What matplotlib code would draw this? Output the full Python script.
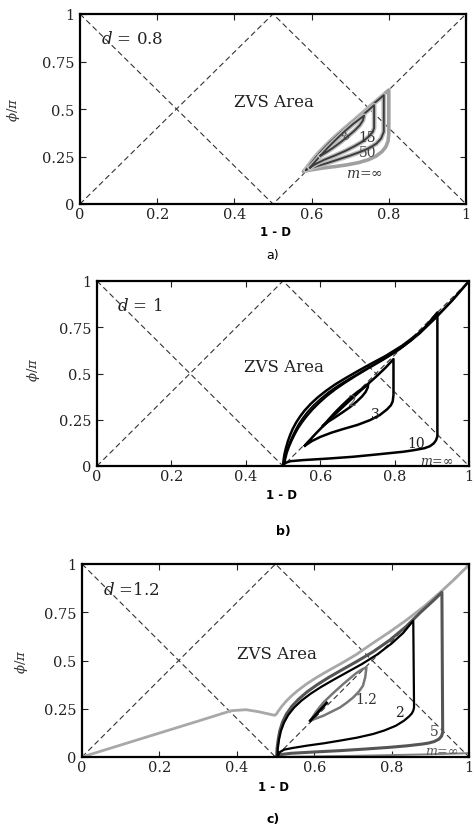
import numpy as np
import matplotlib.pyplot as plt
import matplotlib.patheffects as pe

plt.rcParams['font.family'] = 'DejaVu Serif'
plt.rcParams['mathtext.fontset'] = 'dejavuserif'

W, H = 474, 828

x_ticks = [0, 0.2, 0.4, 0.6, 0.8, 1]
x_ticklabels = ['0', '0.2', '0.4', '0.6', '0.8', '1']
y_ticks = [0, 0.25, 0.5, 0.75, 1]
y_ticklabels = ['0', '0.25', '0.5', '0.75', '1']

# ZVS boundary lines
diam1_x = [0, 0.5, 1]
diam1_y = [0, 1, 0]
diam2_x = [0, 0.5, 1]
diam2_y = [1, 0, 1]

# ---- d = 0.8 ----
a_inf_x = [0.580, 0.590, 0.602, 0.617, 0.635, 0.655, 0.677, 0.700, 0.724, 0.748, 0.772, 0.800,
           0.800, 0.798, 0.792, 0.782, 0.767, 0.747, 0.722, 0.692, 0.660, 0.628, 0.600, 0.580]
a_inf_y = [0.172, 0.200, 0.232, 0.268, 0.306, 0.345, 0.385, 0.425, 0.466, 0.508, 0.550, 0.600,
           0.370, 0.330, 0.300, 0.275, 0.252, 0.233, 0.218, 0.206, 0.197, 0.189, 0.180, 0.172]
a_50_x = [0.586, 0.597, 0.610, 0.626, 0.645, 0.666, 0.689, 0.713, 0.738, 0.762, 0.787,
          0.787, 0.780, 0.768, 0.750, 0.727, 0.700, 0.670, 0.640, 0.610, 0.586]
a_50_y = [0.180, 0.210, 0.243, 0.280, 0.320, 0.360, 0.401, 0.443, 0.487, 0.530, 0.573,
          0.380, 0.345, 0.318, 0.295, 0.275, 0.255, 0.235, 0.215, 0.197, 0.180]
a_15_x = [0.596, 0.610, 0.626, 0.645, 0.666, 0.689, 0.713, 0.738, 0.762,
          0.762, 0.758, 0.748, 0.733, 0.712, 0.688, 0.660, 0.632, 0.610, 0.596]
a_15_y = [0.192, 0.225, 0.262, 0.302, 0.344, 0.388, 0.432, 0.478, 0.520,
          0.400, 0.378, 0.355, 0.330, 0.305, 0.280, 0.255, 0.232, 0.210, 0.192]
a_8_x = [0.623, 0.640, 0.660, 0.683, 0.708, 0.736,
         0.733, 0.725, 0.712, 0.695, 0.675, 0.655, 0.638, 0.623]
a_8_y = [0.254, 0.292, 0.333, 0.378, 0.422, 0.465,
         0.440, 0.415, 0.388, 0.358, 0.325, 0.295, 0.272, 0.254]

# ---- d = 1 ----
b_inf_x = [0.500, 0.5015, 0.504, 0.508, 0.513, 0.519, 0.526, 0.535, 0.546, 0.559, 0.575, 0.594,
           0.616, 0.641, 0.669, 0.700, 0.735, 0.775, 0.820, 0.865, 0.910, 0.955, 1.000]
b_inf_y = [0.000, 0.032, 0.064, 0.098, 0.133, 0.167, 0.200, 0.234, 0.268, 0.302, 0.337, 0.372,
           0.407, 0.442, 0.476, 0.512, 0.551, 0.594, 0.650, 0.718, 0.802, 0.896, 1.000]
b_30_x = [0.5005, 0.503, 0.507, 0.512, 0.518, 0.525, 0.533, 0.542, 0.553, 0.566, 0.582, 0.601,
          0.622, 0.647, 0.675, 0.706, 0.740, 0.779, 0.823, 0.867, 0.911, 0.956, 1.000]
b_30_y = [0.000, 0.030, 0.060, 0.093, 0.127, 0.160, 0.193, 0.226, 0.259, 0.293, 0.328, 0.363,
          0.398, 0.433, 0.468, 0.504, 0.543, 0.588, 0.645, 0.714, 0.800, 0.895, 0.998]
b_10_x = [0.503, 0.506, 0.510, 0.516, 0.523, 0.531, 0.540, 0.551, 0.564, 0.579, 0.597, 0.617,
          0.640, 0.666, 0.695, 0.728, 0.765, 0.805, 0.845, 0.882, 0.915,
          0.915, 0.911, 0.905, 0.895, 0.880, 0.850, 0.823, 0.750, 0.689, 0.620, 0.555, 0.520, 0.508, 0.503]
b_10_y = [0.012, 0.040, 0.072, 0.105, 0.138, 0.171, 0.204, 0.237, 0.271, 0.306, 0.342, 0.378,
          0.414, 0.450, 0.487, 0.527, 0.570, 0.620, 0.680, 0.750, 0.830,
          0.160, 0.138, 0.122, 0.107, 0.096, 0.085, 0.077, 0.062, 0.050, 0.040, 0.032, 0.026, 0.018, 0.012]
b_3_x = [0.559, 0.572, 0.588, 0.606, 0.626, 0.648, 0.672, 0.698, 0.725, 0.752, 0.776, 0.797,
         0.797, 0.795, 0.790, 0.779, 0.760, 0.734, 0.700, 0.662, 0.630, 0.600, 0.578, 0.559]
b_3_y = [0.110, 0.140, 0.175, 0.212, 0.252, 0.295, 0.340, 0.388, 0.437, 0.486, 0.532, 0.578,
         0.385, 0.350, 0.328, 0.305, 0.275, 0.248, 0.222, 0.200, 0.180, 0.157, 0.135, 0.110]
b_2_x = [0.608, 0.622, 0.640, 0.660, 0.680, 0.700, 0.716, 0.729,
         0.728, 0.722, 0.712, 0.698, 0.680, 0.660, 0.640, 0.622, 0.608]
b_2_y = [0.218, 0.250, 0.290, 0.330, 0.368, 0.400, 0.423, 0.443,
         0.425, 0.400, 0.375, 0.348, 0.318, 0.290, 0.263, 0.240, 0.218]

# ---- d = 1.2 ----
c_inf_x = [0.0, 0.1, 0.2, 0.3, 0.386, 0.424, 0.455, 0.480, 0.498, 0.502, 0.508, 0.516, 0.527,
           0.541, 0.558, 0.580, 0.606, 0.636, 0.670, 0.708, 0.750, 0.795, 0.840, 0.885, 0.925,
           0.962, 1.0]
c_inf_y = [0.0, 0.062, 0.124, 0.186, 0.240, 0.245, 0.235, 0.224, 0.216, 0.222, 0.240, 0.262, 0.288,
           0.316, 0.345, 0.378, 0.412, 0.447, 0.485, 0.530, 0.588, 0.648, 0.712, 0.782, 0.852,
           0.920, 0.995]
c_inf_low_x = [0.500, 0.700, 0.900, 1.000]
c_inf_low_y = [0.000, 0.006, 0.014, 0.020]
c_5_x = [0.503, 0.504, 0.507, 0.511, 0.518, 0.528, 0.542, 0.560, 0.582, 0.608, 0.638, 0.672,
         0.710, 0.752, 0.795, 0.837, 0.875, 0.905, 0.930,
         0.932, 0.929, 0.922, 0.910, 0.895, 0.879, 0.840, 0.794, 0.730, 0.667, 0.600, 0.539,
         0.515, 0.506, 0.503]
c_5_y = [0.000, 0.045, 0.090, 0.135, 0.180, 0.222, 0.262, 0.300, 0.338, 0.375, 0.413, 0.452,
         0.495, 0.545, 0.605, 0.675, 0.750, 0.805, 0.853,
         0.127, 0.108, 0.092, 0.080, 0.072, 0.067, 0.058, 0.050, 0.041, 0.033, 0.026, 0.019,
         0.013, 0.006, 0.000]
c_2_x = [0.505, 0.506, 0.509, 0.514, 0.522, 0.533, 0.548, 0.567, 0.590, 0.617, 0.648, 0.683,
         0.722, 0.762, 0.800, 0.830, 0.856,
         0.858, 0.856, 0.852, 0.845, 0.832, 0.811, 0.782, 0.752, 0.710, 0.667, 0.625, 0.582,
         0.545, 0.522, 0.511, 0.505]
c_2_y = [0.000, 0.045, 0.090, 0.135, 0.178, 0.218, 0.256, 0.292, 0.327, 0.362, 0.398, 0.437,
         0.480, 0.530, 0.588, 0.643, 0.706,
         0.257, 0.240, 0.225, 0.210, 0.188, 0.162, 0.138, 0.119, 0.100, 0.085, 0.071, 0.059,
         0.047, 0.038, 0.025, 0.000]
c_12_x = [0.590, 0.605, 0.624, 0.650, 0.675, 0.695, 0.709, 0.722, 0.735,
          0.732, 0.726, 0.715, 0.701, 0.685, 0.667, 0.645, 0.624, 0.605, 0.590]
c_12_y = [0.188, 0.235, 0.283, 0.333, 0.378, 0.412, 0.435, 0.452, 0.465,
          0.415, 0.369, 0.338, 0.309, 0.283, 0.257, 0.235, 0.214, 0.200, 0.188]
c_12_in_x = [0.590, 0.632]
c_12_in_y = [0.188, 0.280]


def px_axes(left, right, top, bottom):
    return [left / W, 1 - bottom / H, (right - left) / W, (bottom - top) / H]


def base(ax, dlabel):
    ax.plot(diam1_x, diam1_y, color='#333333', lw=0.8, dashes=(5, 3))
    ax.plot(diam2_x, diam2_y, color='#333333', lw=0.8, dashes=(5, 3))
    ax.set_xlim(0, 1)
    ax.set_ylim(0, 1)
    ax.set_xticks(x_ticks)
    ax.set_xticklabels(x_ticklabels)
    ax.set_yticks(y_ticks)
    ax.set_yticklabels(y_ticklabels)
    ax.tick_params(direction='in', length=4, width=0.8, top=True, right=True,
                   labelsize=10.5, colors='#222222')
    ax.tick_params(axis='x', pad=2)
    ax.tick_params(axis='y', pad=4)
    for s in ax.spines.values():
        s.set_linewidth(1.6)
    ax.text(0.055, 0.87, dlabel, fontsize=12, va='center', ha='left', color='#222222')
    ax.text(0.503, 0.537, 'ZVS Area', fontsize=12, va='center', ha='center', color='#222222')


fig = plt.figure(figsize=(W / 100, H / 100), dpi=100)

halo = [pe.Stroke(linewidth=3.4, foreground='#bdbdbd'), pe.Normal()]

# a) d = 0.8
ax1 = fig.add_axes(px_axes(80, 466, 15, 205))
base(ax1, r'$d$ = 0.8')
ax1.plot(a_inf_x, a_inf_y, color='#a0a0a0', lw=2.6)
ax1.plot(a_50_x, a_50_y, color='#3c3c3c', lw=1.4, path_effects=halo)
ax1.plot(a_15_x, a_15_y, color='#3c3c3c', lw=1.4, path_effects=halo)
ax1.plot(a_8_x, a_8_y, color='#3c3c3c', lw=1.4, path_effects=halo)
ax1.text(0.690, 0.362, '8', fontsize=8, ha='center', va='center', color='#444444', rotation=40)
ax1.text(0.745, 0.355, '15', fontsize=10, ha='center', va='center', color='#333333')
ax1.text(0.745, 0.275, '50', fontsize=10, ha='center', va='center', color='#444444')
ax1.text(0.738, 0.165, r'$m$=∞', fontsize=10, ha='center', va='center', color='#333333')

# b) d = 1
ax2 = fig.add_axes(px_axes(97, 469, 282, 467))
base(ax2, r'$d$ = 1')
ax2.plot(b_inf_x, b_inf_y, color='black', lw=1.8)
ax2.plot(b_30_x, b_30_y, color='black', lw=1.3)
ax2.plot(b_10_x, b_10_y, color='black', lw=1.8)
ax2.plot(b_3_x, b_3_y, color='black', lw=1.8)
ax2.plot(b_2_x, b_2_y, color='black', lw=1.8)
ax2.text(0.684, 0.353, '2', fontsize=10, ha='center', va='center', color='#555555')
ax2.text(0.747, 0.281, '3', fontsize=10, ha='center', va='center', color='#222222')
ax2.text(0.859, 0.122, '10', fontsize=10, ha='center', va='center', color='#222222')
ax2.text(0.913, 0.032, r'$m$=∞', fontsize=9, ha='center', va='center', color='#333333')

# c) d = 1.2
ax3 = fig.add_axes(px_axes(82, 469, 565, 758))
base(ax3, r'$d$ =1.2')
ax3.plot(c_inf_x, c_inf_y, color='#a8a8a8', lw=2.0)
ax3.plot(c_inf_low_x, c_inf_low_y, color='#808080', lw=1.4)
ax3.plot(c_5_x, c_5_y, color='#555555', lw=2.2)
ax3.plot(c_2_x, c_2_y, color='black', lw=1.6)
ax3.plot(c_12_x, c_12_y, color='#777777', lw=1.8)
ax3.plot(c_12_in_x, c_12_in_y, color='black', lw=2.0)
ax3.text(0.735, 0.300, '1.2', fontsize=10, ha='center', va='center', color='#333333')
ax3.text(0.820, 0.231, '2', fontsize=10, ha='center', va='center', color='#222222')
ax3.text(0.909, 0.136, '5', fontsize=10, ha='center', va='center', color='#444444')
ax3.text(0.930, 0.036, r'$m$=∞', fontsize=9, ha='center', va='center', color='#555555')

# axis titles and captions
for ax, (xl, yl), (cx, cy), (lx, ly), cap, wt in [
        (ax1, (276, 232), (273, 255), (13, 110), 'a)', 'normal'),
        (ax2, (281, 496), (283, 532), (33, 370), 'b)', 'bold'),
        (ax3, (273, 788), (273, 820), (22, 662), 'c)', 'bold')]:
    fig.text(xl / W, 1 - yl / H, '1 - D', family='DejaVu Sans', weight='bold',
             fontsize=8.5, ha='center', va='center')
    fig.text(cx / W, 1 - cy / H, cap, family='DejaVu Sans', weight=wt,
             fontsize=9, ha='center', va='center')
    fig.text(lx / W, 1 - ly / H, r'$\phi/\pi$', fontsize=9.5, rotation=90,
             ha='center', va='center', color='#333333')

fig.savefig('out.png', dpi=100)
